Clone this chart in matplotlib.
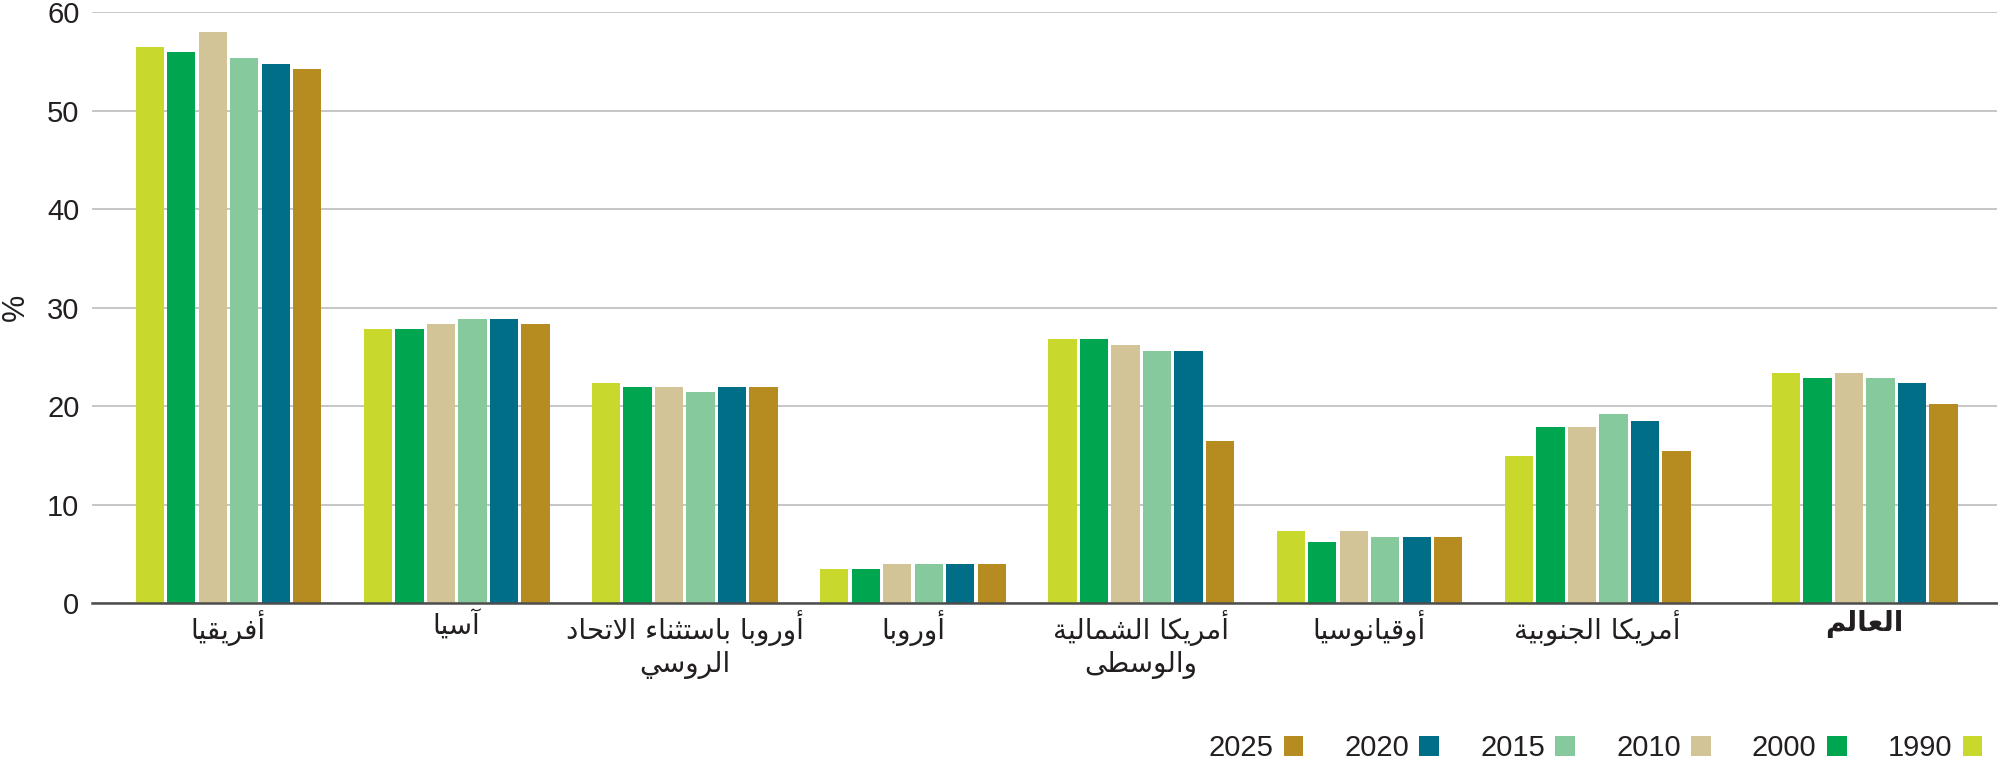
import numpy as np
import matplotlib
matplotlib.use("Agg")
import matplotlib.pyplot as plt
from matplotlib.patches import Patch

plt.rcParams['font.family'] = ['Liberation Sans', 'DejaVu Sans']

regions = ["أفريقيا", "آسيا", "أوروبا باستثناء الاتحاد\nالروسي", "أوروبا",
           "أمريكا الشمالية\nوالوسطى", "أوقيانوسيا", "أمريكا الجنوبية", "العالم"]
years = ["1990", "2000", "2010", "2015", "2020", "2025"]
colors = ["#c8d82d", "#00a54f", "#d3c497", "#85c99d", "#006e86", "#b68c20"]

v1990 = [56.5, 27.8, 22.4, 3.5, 26.8, 7.3, 14.9, 23.4]
v2000 = [56.0, 27.8, 21.9, 3.5, 26.8, 6.2, 17.9, 22.9]
v2010 = [58.0, 28.4, 21.9, 4.0, 26.2, 7.3, 17.9, 23.4]
v2015 = [55.4, 28.9, 21.4, 4.0, 25.6, 6.7, 19.2, 22.9]
v2020 = [54.8, 28.9, 21.9, 4.0, 25.6, 6.7, 18.5, 22.4]
v2025 = [54.3, 28.4, 21.9, 4.0, 16.5, 6.7, 15.4, 20.2]
series = [v1990, v2000, v2010, v2015, v2020, v2025]

# simple arabic shaping (presentation forms) since matplotlib has no shaper
FORMS = {'ء': (0xFE80, 1), 'آ': (0xFE81, 2), 'أ': (0xFE83, 2), 'ا': (0xFE8D, 2),
         'ب': (0xFE8F, 4), 'ة': (0xFE93, 2), 'ت': (0xFE95, 4), 'ث': (0xFE99, 4),
         'ج': (0xFE9D, 4), 'ح': (0xFEA1, 4), 'د': (0xFEA9, 2), 'ر': (0xFEAD, 2),
         'س': (0xFEB1, 4), 'ش': (0xFEB5, 4), 'ط': (0xFEC1, 4), 'ع': (0xFEC9, 4),
         'ف': (0xFED1, 4), 'ق': (0xFED5, 4), 'ك': (0xFED9, 4), 'ل': (0xFEDD, 4),
         'م': (0xFEE1, 4), 'ن': (0xFEE5, 4), 'و': (0xFEED, 2), 'ى': (0xFEEF, 2),
         'ي': (0xFEF1, 4)}
LAM_ALEF = {'آ': 0xFEF5, 'أ': 0xFEF7, 'إ': 0xFEF9, 'ا': 0xFEFB}


def shape_line(s):
    units = []
    i = 0
    while i < len(s):
        c = s[i]
        if c == 'ل' and i + 1 < len(s) and s[i + 1] in LAM_ALEF:
            units.append((LAM_ALEF[s[i + 1]], 2))
            i += 2
            continue
        units.append(FORMS[c] if c in FORMS else (c, 0))
        i += 1
    out = []
    for k, (base, n) in enumerate(units):
        if n == 0:
            out.append(base)
            continue
        prev = units[k - 1] if k > 0 else (None, 0)
        nxt = units[k + 1] if k + 1 < len(units) else (None, 0)
        jp = prev[1] == 4 and n >= 2
        jn = n == 4 and nxt[1] >= 2
        if jp and jn:
            code = base + 3
        elif jp:
            code = base + 1
        elif jn:
            code = base + 2
        else:
            code = base
        out.append(chr(code))
    return ''.join(out)[::-1]


def shape(s):
    return '\n'.join(shape_line(l) for l in s.split('\n'))


fig = plt.figure(figsize=(19.99, 7.65), dpi=100)
ax = fig.add_axes([0.046, 0.2117, 0.953, 0.772])

x = np.arange(len(regions), dtype=float)
x[-1] += 0.17
step = 0.138
width = 0.124
for j, vals in enumerate(series):
    ax.bar(x + (j - 2.5) * step, vals, width, color=colors[j], zorder=3)

ax.set_ylim(0, 60)
ax.set_xlim(-0.598, x[-1] + 0.58)
ax.set_yticks(range(0, 61, 10))
ax.yaxis.grid(True, color="#c6c6c6", linewidth=1.4, zorder=0)
ax.tick_params(axis='y', length=0, labelsize=21, colors="#231f20", pad=9)
ax.tick_params(axis='x', length=0, pad=5)
for sp in ['top', 'right', 'left']:
    ax.spines[sp].set_visible(False)
ax.spines['bottom'].set_color("#4d4d4d")
ax.spines['bottom'].set_linewidth(1.8)
ax.spines['bottom'].set_zorder(4)

ax.set_xticks(x)
ax.set_xticklabels([shape(r) for r in regions], fontsize=20, color="#231f20",
                   family=['DejaVu Sans'])
ax.get_xticklabels()[-1].set_fontweight('bold')

ax.set_ylabel("%", fontsize=22, color="#231f20", labelpad=12)

handles = [Patch(facecolor=colors[j], label=years[j]) for j in range(len(years))][::-1]
fig.legend(handles=handles, loc='center right', bbox_to_anchor=(0.999, 0.022),
           ncol=6, frameon=False, markerfirst=False, fontsize=21, borderpad=0,
           handlelength=0.68, handleheight=0.68, handletextpad=0.36,
           columnspacing=1.4, labelcolor="#231f20")

fig.savefig("out.png", dpi=100)
